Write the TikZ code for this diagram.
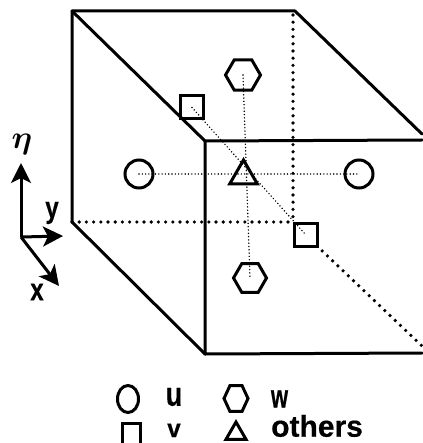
\documentclass[tikz,border=0pt]{standalone}
\usepackage{amsmath}
\usepackage{fontspec}
\setmainfont[BoldFeatures={FakeBold=0.5}]{Liberation Sans}
\usetikzlibrary{shapes.geometric,arrows.meta}
\tikzset{
  edge/.style={line width=3pt,line cap=round,line join=round},
  thickdots/.style={line width=3.6pt,line cap=round,dash pattern=on 0pt off 7.2pt},
  thindots/.style={line width=1.6pt,line cap=round,dash pattern=on 0pt off 3.3pt},
  marker/.style={draw,line width=3pt,inner sep=0pt,outer sep=0pt},
  circ/.style={marker,ellipse,minimum width=28pt,minimum height=28pt},
  hexa/.style={marker,regular polygon,regular polygon sides=6,minimum size=35pt},
  sq/.style={marker,rectangle,minimum width=23pt,minimum height=23pt},
  tri/.style={marker,regular polygon,regular polygon sides=3,minimum size=32pt},
  axis/.style={line width=3pt,-{Stealth[length=20pt,width=20pt,inset=5pt]}},
  lbl/.style={font=\bfseries\fontsize{24}{24}\selectfont,inner sep=0pt},
}
\begin{document}
\begin{tikzpicture}[x=1pt,y=-1pt]
\useasboundingbox (0,0) rectangle (422,443);
% cube corners
\coordinate (btl) at (72,11);
\coordinate (btr) at (295,11);
\coordinate (bbl) at (72,222);
\coordinate (bbr) at (293,222);
\coordinate (ftl) at (205,141);
\coordinate (ftr) at (422,140);
\coordinate (ftrb) at (422,134);
\coordinate (fbl) at (205,354);
\coordinate (fbr) at (422,353);
\coordinate (fbrd) at (422,346);
% markers
\node[circ] (cl) at (139,174) {};
\node[circ] (cr) at (359,174) {};
\node[hexa] (ht) at (243,75) {};
\node[hexa,minimum size=33pt] (hb) at (250,278) {};
\node[sq] (st) at (192,107.5) {};
\node[sq] (sb) at (305.5,234.5) {};
\node[tri] (tr) at (243.5,176) {};
% thin dotted
\draw[thindots] (cl.center) -- (cr.center);
\draw[thindots] (ht.center) -- (hb.center);
\draw[thindots] (st.center) -- (sb.center);
% hidden edges
\draw[thickdots] (bbl) -- (bbr);
\draw[thickdots] (btr) ++(-2,4) -- (bbr);
\draw[thickdots] (sb.south east) -- (fbrd);
% solid edges
\draw[edge] (bbl) -- (btl) -- (btr) -- (ftrb);
\draw[edge] (btl) -- (ftl) -- (ftr);
\draw[edge] (ftl) -- (fbl) -- (fbr);
\draw[edge] (bbl) -- (fbl);
% axes
\coordinate (o) at (21,237);
\coordinate (ae) at (21,163);
\coordinate (ay) at (63,236);
\coordinate (ax) at (59,286);
\draw[axis] (o) -- (ae);
\draw[axis] (o) -- (ay);
\draw[axis] (o) -- (ax);
\node[inner sep=0pt,font=\fontsize{36}{36}\selectfont,scale=1.3] (le) at (22,144) {$\boldsymbol{\eta}$};
\node[lbl,yscale=1.25] (ly) at (52,213) {y};
\node[lbl,yscale=1.3] (lx) at (37,292) {x};
% legend
\node[marker,ellipse,minimum width=21pt,minimum height=27pt] (k1) at (128,399) {};
\node[lbl,font=\bfseries\fontsize{27}{27}\selectfont,yscale=1.25] (k1t) at (174,397) {u};
\node[hexa,minimum size=30pt,xscale=0.8] (k2) at (236,398.5) {};
\node[lbl,font=\bfseries\fontsize{22}{22}\selectfont,yscale=1.5] (k2t) at (279.5,399) {w};
\coordinate (sa) at (122,443);
\coordinate (sc) at (122,423.5);
\coordinate (sd) at (140,423.5);
\coordinate (se) at (140,443);
\draw[line width=3pt] (sa) -- (sc) -- (sd) -- (se);
\node[lbl,font=\bfseries\fontsize{22}{22}\selectfont,xscale=1.1,yscale=1.15,anchor=base] (k3t) at (174,437) {v};
\node[tri,minimum size=23pt] (k4) at (236,433.5) {};
\node[lbl,font=\bfseries\fontsize{30}{30}\selectfont,anchor=base west] (k4t) at (271,436.7) {others};
\end{tikzpicture}
\end{document}
